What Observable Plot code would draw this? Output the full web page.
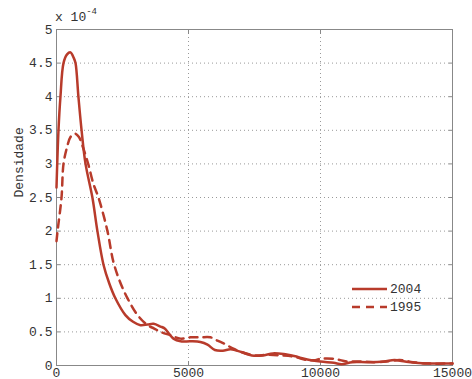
<!DOCTYPE html>
<html>
<head>
<meta charset="utf-8">
<script src="https://cdn.jsdelivr.net/npm/d3@7"></script>
<script src="https://cdn.jsdelivr.net/npm/@observablehq/plot@0.6"></script>
<style>
  html, body { margin: 0; padding: 0; background: #fff; }
  #wrap { position: relative; width: 472px; height: 379px; font-family: "Liberation Mono", "DejaVu Sans Mono", monospace; }
  #exp { position: absolute; left: 55px; top: 9px; font-size: 13px; color: #333; }
  #exp sup { font-size: 9px; position: relative; top: -2px; }
  #legend { position: absolute; left: 352px; top: 280px; font-size: 13px; color: #333; }
  #legend div { display: flex; align-items: center; height: 18px; }
  #legend svg { margin-right: 3px; }
</style>
</head>
<body>
<div id="wrap"></div>
<script>
const x2004 = [0, 75, 150, 265, 400, 530, 650, 720, 830, 950, 1100, 1360, 1550, 1780, 2000, 2230, 2610, 2900, 3180, 3450, 3680, 3940, 4100, 4250, 4430, 4700, 5080, 5450, 5720, 6000, 6300, 6600, 7000, 7400, 7800, 8200, 8600, 9000, 9500, 10000, 10500, 10800, 11200, 11800, 12400, 12800, 13200, 13600, 14200, 15000];
const y2004 = [2.65, 3.5, 4.0, 4.5, 4.63, 4.66, 4.58, 4.5, 4.0, 3.5, 3.0, 2.5, 2.0, 1.5, 1.22, 1.0, 0.75, 0.65, 0.6, 0.61, 0.62, 0.58, 0.55, 0.48, 0.4, 0.36, 0.36, 0.35, 0.31, 0.23, 0.22, 0.24, 0.2, 0.15, 0.15, 0.18, 0.17, 0.14, 0.09, 0.06, 0.04, 0.02, 0.05, 0.05, 0.06, 0.08, 0.06, 0.04, 0.03, 0.03];
const x1995 = [0, 40, 190, 265, 400, 530, 700, 850, 1000, 1200, 1400, 1590, 1930, 2150, 2400, 2690, 3070, 3450, 3700, 3940, 4320, 4700, 5080, 5450, 5830, 6100, 6330, 6700, 7000, 7500, 8000, 8500, 9000, 9500, 9800, 10000, 10500, 11000, 11500, 12000, 12500, 13000, 13500, 14000, 15000];
const y1995 = [1.85, 2.0, 2.5, 3.0, 3.25, 3.4, 3.45, 3.4, 3.25, 3.0, 2.7, 2.5, 2.0, 1.55, 1.25, 1.0, 0.75, 0.6, 0.55, 0.5, 0.45, 0.4, 0.42, 0.42, 0.42, 0.37, 0.33, 0.25, 0.2, 0.15, 0.16, 0.15, 0.13, 0.08, 0.08, 0.1, 0.1, 0.06, 0.06, 0.05, 0.06, 0.08, 0.05, 0.03, 0.03];
const xTicks = [0, 5000, 10000, 15000];
const yTicks = [0, 0.5, 1, 1.5, 2, 2.5, 3, 3.5, 4, 4.5, 5];
const seriesNames = ["2004", "1995"];
const yLabel = "Densidade";
const expLabel = "x 10";
const expPower = "-4";

const color = "#b83b2b";
const d2004 = x2004.map((x, i) => ({x, y: y2004[i]}));
const d1995 = x1995.map((x, i) => ({x, y: y1995[i]}));

const chart = Plot.plot({
  width: 472,
  height: 379,
  marginLeft: 56,
  marginRight: 20,
  marginTop: 29,
  marginBottom: 14,
  style: {fontFamily: "'Liberation Mono', monospace", fontSize: "13px", color: "#333", background: "#fff"},
  x: {domain: [0, 15000]},
  y: {domain: [0, 5]},
  marks: [
    Plot.gridX(xTicks, {stroke: "#999", strokeOpacity: 1, strokeDasharray: "1,3"}),
    Plot.gridY(yTicks, {stroke: "#999", strokeOpacity: 1, strokeDasharray: "1,3"}),
    Plot.frame({stroke: "#888", strokeWidth: 1}),
    Plot.axisX(xTicks, {anchor: "bottom", tickSize: -4, stroke: "#888", tickPadding: 6, label: null, tickFormat: d => String(d)}),
    Plot.axisX(xTicks, {anchor: "top", tickSize: -4, stroke: "#888", tickFormat: () => "", label: null}),
    Plot.axisY(yTicks, {anchor: "left", tickSize: -4, stroke: "#888", tickPadding: 8, label: null, tickFormat: d => String(d)}),
    Plot.axisY(yTicks, {anchor: "right", tickSize: -4, stroke: "#888", tickFormat: () => "", label: null}),
    Plot.line(d1995, {x: "x", y: "y", stroke: color, strokeWidth: 2.5, strokeDasharray: "8,6", curve: "catmull-rom"}),
    Plot.line(d2004, {x: "x", y: "y", stroke: color, strokeWidth: 2.5, curve: "catmull-rom"}),
    Plot.text([yLabel], {frameAnchor: "left", dx: -38, rotate: -90, fontSize: 13, fill: "#333"})
  ]
});

const wrap = document.getElementById("wrap");
wrap.appendChild(chart);

const exp = document.createElement("div");
exp.id = "exp";
exp.innerHTML = `${expLabel}<sup>${expPower}</sup>`;
wrap.appendChild(exp);

const legend = document.createElement("div");
legend.id = "legend";
seriesNames.forEach((name, i) => {
  const row = document.createElement("div");
  const dash = i === 1 ? ' stroke-dasharray="8,6"' : '';
  row.innerHTML = `<svg width="35" height="6"><line x1="0" y1="3" x2="35" y2="3" stroke="${color}" stroke-width="2.5"${dash}/></svg><span>${name}</span>`;
  legend.appendChild(row);
});
wrap.appendChild(legend);
</script>
</body>
</html>
